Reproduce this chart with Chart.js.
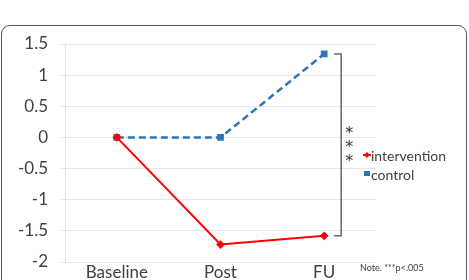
<!DOCTYPE html>
<html>
<head>
<meta charset="UTF-8">
<script src="https://cdn.jsdelivr.net/npm/chart.js"></script>
<style>
    body { margin: 0; background: #fff; overflow: hidden; }
    #frame {
        position: absolute; left: 1px; top: 25px; width: 464px; height: 280px;
        border: 1.5px solid #555; border-radius: 9px;
    }
    #wrap { position: absolute; left: 0; top: 0; width: 469px; height: 280px; }
</style>
</head>
<body>
<div id="frame"></div>
<div id="wrap"><canvas id="grafico" width="469" height="280"></canvas></div>
<script>
const categorias = ['Baseline', 'Post', 'FU'];
const intervencion = [0, -1.72, -1.58];
const control = [0, 0, 1.34];
const ticksY = [1.5, 1, 0.5, 0, -0.5, -1, -1.5, -2];

const fuente = 'Lato, "Open Sans", sans-serif';

// Corchete de significancia, asteriscos, leyenda y nota
const extras = {
    id: 'extras',
    afterDraw(chart) {
        const ctx = chart.ctx;
        const x = chart.scales.x, y = chart.scales.y;
        const yTop = y.getPixelForValue(control[2]);
        const yBot = y.getPixelForValue(intervencion[2]);
        const xl = x.getPixelForValue(2) + 10;
        const xr = xl + 7;
        ctx.save();
        ctx.strokeStyle = '#666';
        ctx.lineWidth = 1.5;
        ctx.beginPath();
        ctx.moveTo(xl, yTop); ctx.lineTo(xr, yTop);
        ctx.lineTo(xr, yBot); ctx.lineTo(xl, yBot);
        ctx.stroke();

        ctx.fillStyle = '#333';
        ctx.font = '16px "DejaVu Sans", sans-serif';
        ctx.textAlign = 'center';
        ctx.textBaseline = 'middle';
        [134, 148, 162].forEach(py => ctx.fillText('*', xr + 8, py));

        // leyenda
        ctx.textAlign = 'left';
        ctx.font = '14px ' + fuente;
        const lx = 363;
        ctx.strokeStyle = '#ff0000';
        ctx.lineWidth = 2;
        ctx.beginPath(); ctx.moveTo(lx, 155); ctx.lineTo(lx + 8, 155); ctx.stroke();
        ctx.fillStyle = '#ff0000';
        ctx.beginPath();
        ctx.moveTo(lx + 4, 152); ctx.lineTo(lx + 7, 155); ctx.lineTo(lx + 4, 158); ctx.lineTo(lx + 1, 155);
        ctx.closePath(); ctx.fill();
        ctx.fillStyle = '#2e75b6';
        ctx.fillRect(lx + 1, 171, 6, 5);
        ctx.fillStyle = '#404040';
        ctx.fillText('intervention', lx + 8, 156);
        ctx.fillText('control', lx + 8, 175);

        ctx.font = '9px ' + fuente;
        ctx.fillText('Note. ***p<.005', 360, 268);
        ctx.restore();
    }
};

new Chart(document.getElementById('grafico').getContext('2d'), {
    type: 'line',
    data: {
        labels: categorias,
        datasets: [{
            label: 'intervention',
            data: intervencion,
            borderColor: '#ff0000',
            backgroundColor: '#ff0000',
            borderWidth: 2,
            pointStyle: 'rectRot',
            pointRadius: 3,
            tension: 0
        }, {
            label: 'control',
            data: control,
            borderColor: '#2e75b6',
            backgroundColor: '#2e75b6',
            borderWidth: 2.5,
            borderDash: [7, 4],
            pointStyle: 'rect',
            pointRadius: 3,
            tension: 0
        }]
    },
    options: {
        responsive: false,
        animation: false,
        layout: { padding: { top: 44, right: 93, bottom: 0, left: 0 } },
        plugins: { legend: { display: false }, tooltip: { enabled: false } },
        scales: {
            x: {
                offset: true,
                grid: { display: false, drawTicks: false },
                border: { display: false },
                ticks: { color: '#404040', font: { family: fuente, size: 17 }, padding: 0 },
                afterFit: s => { s.height = 18; s.paddingLeft = 0; s.paddingRight = 0; }
            },
            y: {
                min: -2, max: 1.5,
                afterBuildTicks: s => { s.ticks = ticksY.map(v => ({ value: v })); },
                grid: { color: '#e8e8e8', tickLength: 5, tickColor: '#e8e8e8' },
                border: { display: true, color: '#e0e0e0' },
                ticks: {
                    color: '#404040', font: { family: fuente, size: 17 }, padding: 12,
                    callback: v => String(v)
                },
                afterFit: s => { s.width = 65; s.paddingTop = 0; s.paddingBottom = 0; }
            }
        }
    },
    plugins: [extras]
});
</script>
</body>
</html>
